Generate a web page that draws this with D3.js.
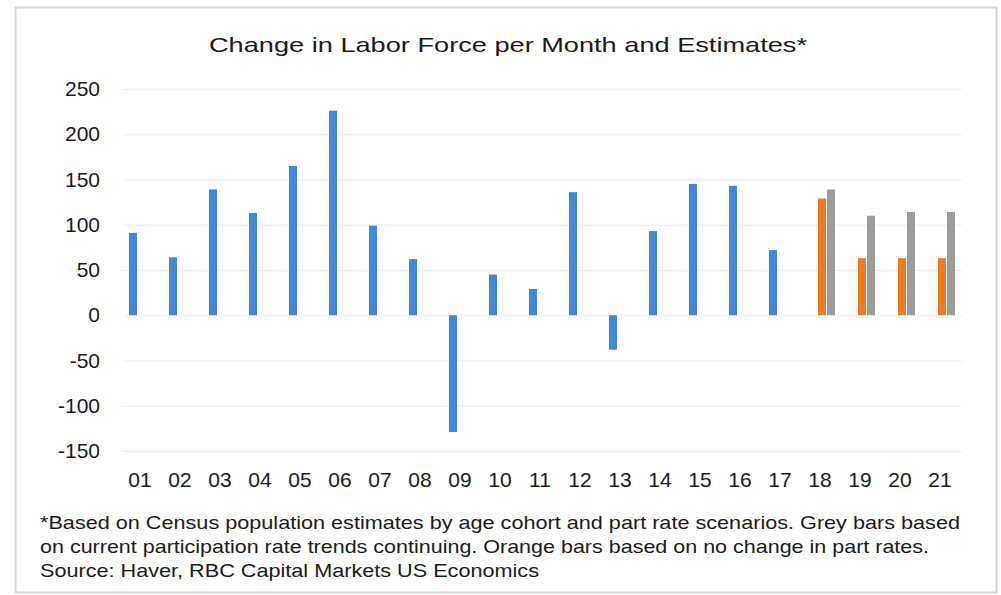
<!DOCTYPE html>
<html>
<head>
<meta charset="utf-8">
<script src="https://cdn.jsdelivr.net/npm/d3@7"></script>
<style>
  html, body { margin: 0; padding: 0; background: #ffffff; }
  svg { display: block; font-family: "Liberation Sans", Arial, sans-serif; }
</style>
</head>
<body>
<svg id="chart" width="1001" height="595"></svg>
<script>
const categories = ["01","02","03","04","05","06","07","08","09","10","11","12","13","14","15","16","17","18","19","20","21"];
const actualChange = [91,64,139,113,165,226,99,62,-129,45,29,136,-38,93,145,143,72,null,null,null,null];
const noChangeEstimate = [null,null,null,null,null,null,null,null,null,null,null,null,null,null,null,null,null,129,63,63,63];
const trendEstimate = [null,null,null,null,null,null,null,null,null,null,null,null,null,null,null,null,null,139,110,114,114];
const yTicks = [-150,-100,-50,0,50,100,150,200,250];
const seriesKeys = ["actual","noChange","trend"];
const seriesColors = { actual: "#4189d6", noChange: "#ef7b25", trend: "#9c9c9c" };
const titleText = "Change in Labor Force per Month and Estimates*";
const noteLines = [
  "*Based on Census population estimates by age cohort and part rate scenarios. Grey bars based",
  "on current participation rate trends continuing. Orange bars based on no change in part rates.",
  "Source: Haver, RBC Capital Markets US Economics"
];

const svg = d3.select("#chart");

// outer border
svg.append("rect")
  .attr("x", 15.5).attr("y", 7.5).attr("width", 981).attr("height", 585)
  .attr("fill", "#ffffff").attr("stroke", "#d6d6d6").attr("stroke-width", 2);

const plot = { left: 122, right: 962, top: 89, bottom: 451 };

const x = d3.scaleBand().domain(categories).range([plot.left, plot.right]).padding(0);
const xs = d3.scaleBand().domain(seriesKeys)
  .range([x.bandwidth() / 2 - 13.5, x.bandwidth() / 2 + 13.5]);
const y = d3.scaleLinear().domain([-150, 250]).range([plot.bottom, plot.top]);

// gridlines
const grid = svg.append("g").attr("transform", `translate(${plot.left},0)`)
  .call(d3.axisLeft(y).tickValues(yTicks).tickSize(-(plot.right - plot.left)).tickFormat(""));
grid.select(".domain").remove();
grid.selectAll("line").attr("stroke", "#eeeeee").attr("stroke-width", 1.2);

// y axis labels
const yAxis = svg.append("g").attr("transform", `translate(${plot.left},0)`)
  .call(d3.axisLeft(y).tickValues(yTicks).tickSize(0).tickPadding(22).tickFormat(d => String(d)));
yAxis.select(".domain").remove();
yAxis.selectAll("text").attr("font-size", 21).attr("fill", "#1a1a1a")
  .attr("font-family", "'Liberation Sans', Arial, sans-serif");

// x axis labels
const xAxis = svg.append("g").attr("transform", `translate(0,${plot.bottom})`)
  .call(d3.axisBottom(x).tickSize(0).tickPadding(21));
xAxis.select(".domain").remove();
xAxis.selectAll("text").attr("font-size", 21).attr("fill", "#1a1a1a")
  .attr("font-family", "'Liberation Sans', Arial, sans-serif")
  .attr("dx", -2);

// bars
const rows = categories.map((c, i) => ({
  cat: c,
  values: [
    { key: "actual", v: actualChange[i] },
    { key: "noChange", v: noChangeEstimate[i] },
    { key: "trend", v: trendEstimate[i] }
  ].filter(d => d.v !== null)
}));

const barW = 8;
svg.append("g").selectAll("g").data(rows).join("g")
  .attr("transform", d => `translate(${x(d.cat)},0)`)
  .selectAll("rect").data(d => d.values).join("rect")
  .attr("x", d => xs(d.key) + (xs.bandwidth() - barW) / 2)
  .attr("width", barW)
  .attr("y", d => y(Math.max(0, d.v)))
  .attr("height", d => Math.abs(y(d.v) - y(0)))
  .attr("fill", d => seriesColors[d.key]);

// title
svg.append("text")
  .attr("x", 508).attr("y", 52)
  .attr("text-anchor", "middle")
  .attr("font-size", 21).attr("fill", "#1a1a1a")
  .attr("textLength", 598).attr("lengthAdjust", "spacingAndGlyphs")
  .text(titleText);

// footnote
const noteWidths = [920, 889, 499];
svg.append("g").selectAll("text").data(noteLines).join("text")
  .attr("x", 40)
  .attr("y", (d, i) => 529 + i * 24)
  .attr("font-size", 19).attr("fill", "#1a1a1a")
  .attr("textLength", (d, i) => noteWidths[i]).attr("lengthAdjust", "spacingAndGlyphs")
  .text(d => d);
</script>
</body>
</html>
